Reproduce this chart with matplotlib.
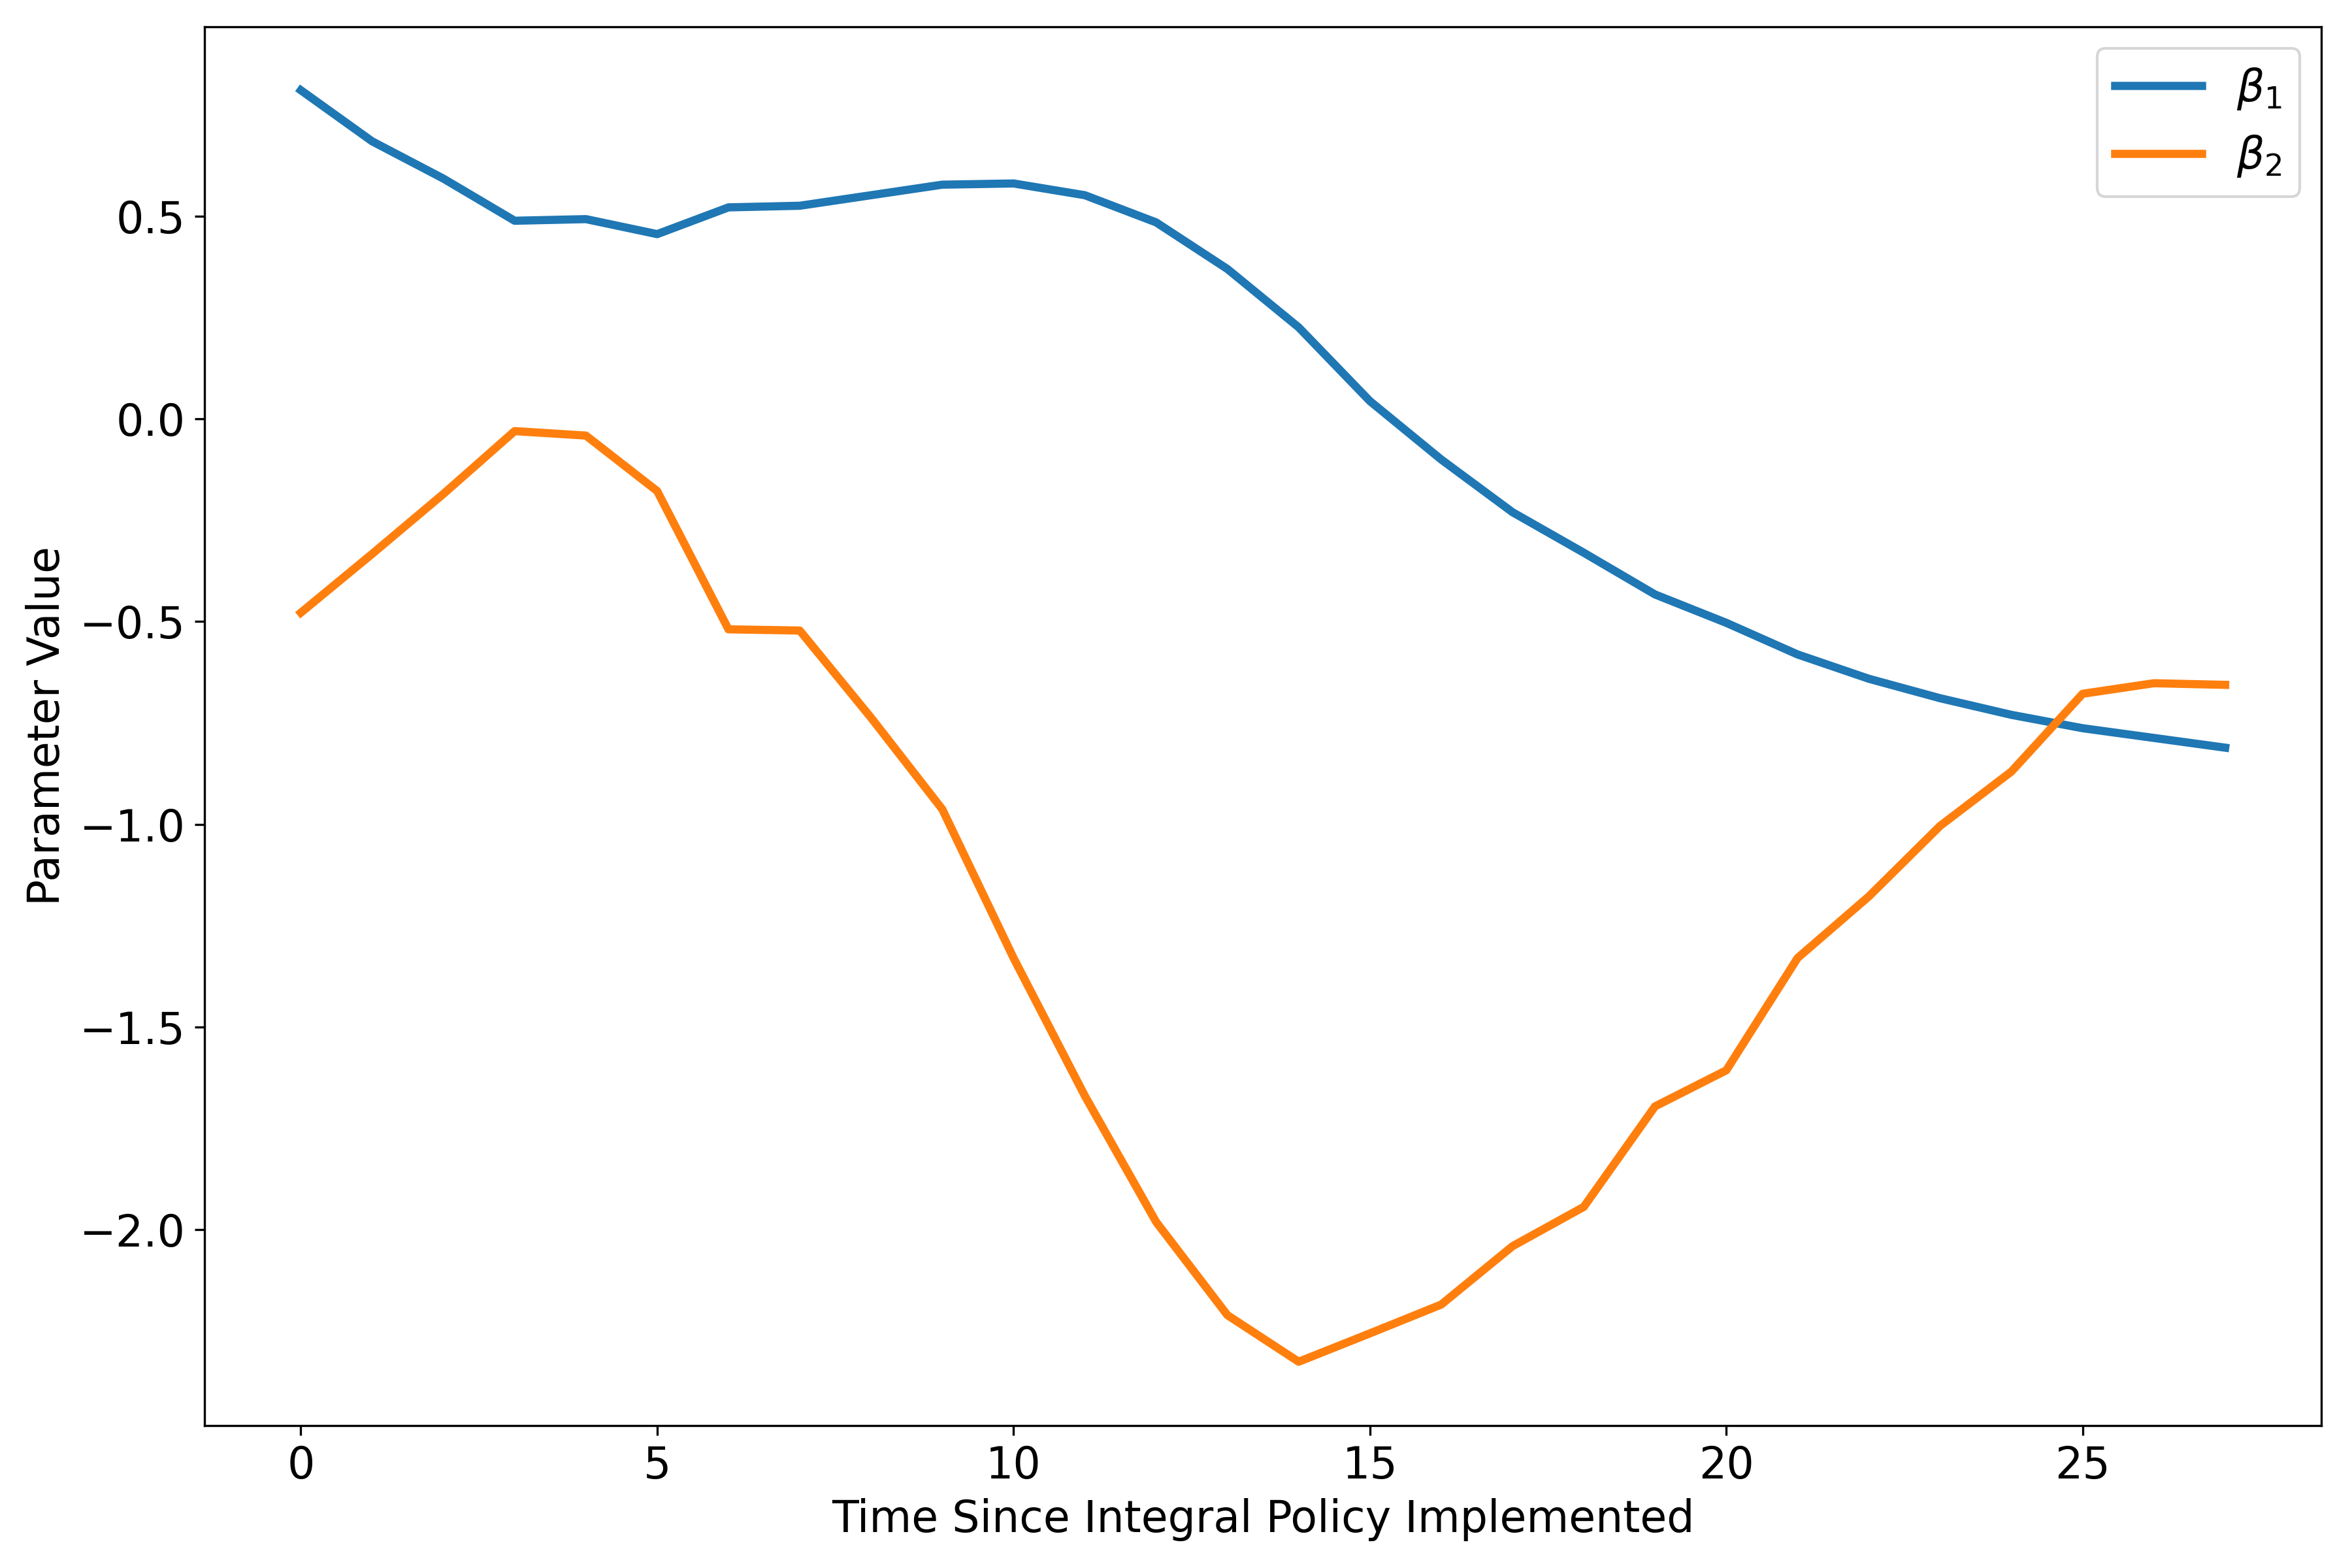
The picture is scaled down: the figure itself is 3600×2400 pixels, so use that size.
import matplotlib
matplotlib.use("Agg")
import matplotlib.pyplot as plt

# 时间步
t = list(range(28))

# 参数估计
beta1 = [0.811, 0.685, 0.593, 0.489, 0.493, 0.456, 0.522, 0.526, 0.552, 0.578,
         0.581, 0.552, 0.485, 0.370, 0.226, 0.044, -0.100, -0.230, -0.330, -0.433,
         -0.503, -0.581, -0.641, -0.689, -0.730, -0.763, -0.787, -0.811]
beta2 = [-0.478, -0.333, -0.185, -0.030, -0.041, -0.178, -0.519, -0.522, -0.737, -0.963,
         -1.330, -1.670, -1.981, -2.211, -2.326, -2.256, -2.185, -2.041, -1.944, -1.696,
         -1.607, -1.330, -1.178, -1.004, -0.870, -0.678, -0.652, -0.656]

plt.rcParams['font.size'] = 14

fig, ax = plt.subplots(figsize=(12, 8), dpi=300)
ax.plot(t, beta1, lw=3, label=r'$\beta_1$')
ax.plot(t, beta2, lw=3, label=r'$\beta_2$')

ax.tick_params(labelsize=16)
ax.set_xlabel('Time Since Integral Policy Implemented', fontsize=16)
ax.set_ylabel('Parameter Value', fontsize=16)
ax.legend(loc='upper right', fontsize=16)

fig.subplots_adjust(left=0.087, right=0.987, top=0.983, bottom=0.091)
fig.savefig('out.png', dpi=300)
